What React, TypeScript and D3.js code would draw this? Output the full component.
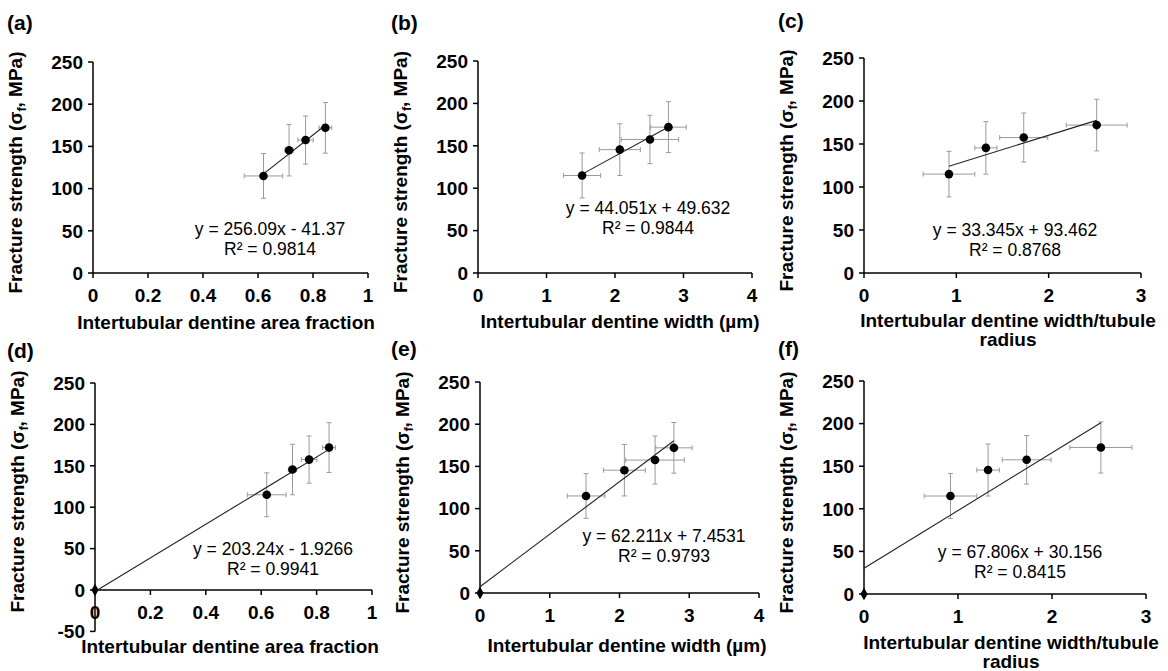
import React from "react";
import * as d3 from "d3";

// mean fracture strength of the four groups and their standard deviations
const strength = [115, 145.5, 157.5, 172];
const strengthErr = [26.5, 30.5, 28.5, 30];

// x measures for the same four groups
const areaFraction = [0.62, 0.713, 0.773, 0.845];
const areaFractionErr = [0.07, 0.015, 0.028, 0.023];
const dentineWidth = [1.52, 2.07, 2.51, 2.78];
const dentineWidthErr = [0.27, 0.3, 0.42, 0.26];
const widthRatio = [0.92, 1.32, 1.73, 2.52];
const widthRatioErr = [0.28, 0.12, 0.26, 0.33];

// linear fits shown on each panel
const slopes = [256.09, 44.051, 33.345, 203.24, 62.211, 67.806];
const intercepts = [-41.37, 49.632, 93.462, -1.9266, 7.4531, 30.156];
const equations = [
  "y = 256.09x - 41.37",
  "y = 44.051x + 49.632",
  "y = 33.345x + 93.462",
  "y = 203.24x - 1.9266",
  "y = 62.211x + 7.4531",
  "y = 67.806x + 30.156",
];
const rSquared = ["R² = 0.9814", "R² = 0.9844", "R² = 0.8768", "R² = 0.9941", "R² = 0.9793", "R² = 0.8415"];

const areaTicks = [0, 0.2, 0.4, 0.6, 0.8, 1];
const widthTicks = [0, 1, 2, 3, 4];
const ratioTicks = [0, 1, 2, 3];
const yTicks = [0, 50, 100, 150, 200, 250];
const yTicksNeg = [-50, 0, 50, 100, 150, 200, 250];

const titleArea = ["Intertubular dentine area fraction"];
const titleWidth = ["Intertubular dentine width (µm)"];
const titleRatio = ["Intertubular dentine width/tubule", "radius"];

const FONT = "'Liberation Sans', Arial, sans-serif";

const panels = [
  { label: "(a)", xs: areaFraction, xe: areaFractionErr, ticks: areaTicks, yt: yTicks, title: titleArea, origin: false,
    l: 93, r: 368, t: 62, b: 273, lx: 7, ly: 30, eq: [270, 235], tx: 226, ty: 322 },
  { label: "(b)", xs: dentineWidth, xe: dentineWidthErr, ticks: widthTicks, yt: yTicks, title: titleWidth, origin: false,
    l: 478, r: 752, t: 61, b: 273, lx: 391, ly: 30, eq: [648, 214], tx: 620, ty: 321 },
  { label: "(c)", xs: widthRatio, xe: widthRatioErr, ticks: ratioTicks, yt: yTicks, title: titleRatio, origin: false,
    l: 864, r: 1141, t: 58, b: 273, lx: 778, ly: 28, eq: [1015, 236], tx: 1008, ty: 320 },
  { label: "(d)", xs: areaFraction, xe: areaFractionErr, ticks: areaTicks, yt: yTicksNeg, title: titleArea, origin: true,
    l: 95, r: 372, t: 383, b: 590, lx: 7, ly: 358, eq: [273, 555], tx: 230, ty: 646 },
  { label: "(e)", xs: dentineWidth, xe: dentineWidthErr, ticks: widthTicks, yt: yTicks, title: titleWidth, origin: true,
    l: 480, r: 759, t: 382, b: 593, lx: 391, ly: 356, eq: [664, 542], tx: 627, ty: 645 },
  { label: "(f)", xs: widthRatio, xe: widthRatioErr, ticks: ratioTicks, yt: yTicks, title: titleRatio, origin: true,
    l: 864, r: 1146, t: 381, b: 594, lx: 778, ly: 356, eq: [1020, 558], tx: 1011, ty: 642 },
];

function Panel({ p, i }: { p: any; i: number }) {
  const x = d3.scaleLinear().domain([0, p.ticks[p.ticks.length - 1]]).range([p.l, p.r]);
  const y = d3.scaleLinear().domain([0, 250]).range([p.b, p.t]);
  const yMin = p.yt[0];
  const x0 = p.origin ? 0 : p.xs[0];
  const x1 = p.xs[p.xs.length - 1];
  const fit = d3
    .line<number>()
    .x((d) => x(d))
    .y((d) => y(slopes[i] * d + intercepts[i]));
  const cap = 2.5;
  const midY = (y(0) + y(250)) / 2;

  return (
    <g>
      <text x={p.lx} y={p.ly} fontFamily={FONT} fontWeight="bold" fontSize={21}>
        {p.label}
      </text>

      {/* y axis */}
      <line x1={p.l} x2={p.l} y1={y(yMin)} y2={y(250)} stroke="#000" strokeWidth={1.5} />
      {p.yt.map((t: number) => (
        <g key={"y" + t}>
          <line x1={p.l - 5} x2={p.l} y1={y(t)} y2={y(t)} stroke="#000" strokeWidth={1.5} />
          <text x={p.l - 10} y={y(t)} dy="0.36em" textAnchor="end" fontFamily={FONT} fontWeight="bold" fontSize={19}>
            {t}
          </text>
        </g>
      ))}

      {/* x axis */}
      <line x1={p.l} x2={p.r} y1={y(0)} y2={y(0)} stroke="#000" strokeWidth={1.5} />
      {p.ticks.map((t: number) => (
        <g key={"x" + t}>
          <line x1={x(t)} x2={x(t)} y1={y(0)} y2={y(0) + 5} stroke="#000" strokeWidth={1.5} />
          <text x={x(t)} y={y(0) + 22} dy="0.36em" textAnchor="middle" fontFamily={FONT} fontWeight="bold" fontSize={19}>
            {t}
          </text>
        </g>
      ))}

      {/* axis titles */}
      <text
        transform={`translate(${p.l - 71},${midY + 5}) rotate(-90)`}
        textAnchor="middle"
        fontFamily={FONT}
        fontWeight="bold"
        fontSize={19}
      >
        Fracture strength (σ
        <tspan fontSize={12.5} dy={4}>f</tspan>
        <tspan dy={-4}>, MPa)</tspan>
      </text>
      {p.title.map((s: string, k: number) => (
        <text
          key={s}
          x={p.tx}
          y={p.ty + k * 19.5}
          dy="0.36em"
          textAnchor="middle"
          fontFamily={FONT}
          fontWeight="bold"
          fontSize={19}
        >
          {s}
        </text>
      ))}

      {/* error bars */}
      {p.xs.map((xv: number, k: number) => (
        <g key={"e" + k} stroke="#9a9a9a" strokeWidth={1}>
          <line x1={x(xv)} x2={x(xv)} y1={y(strength[k] - strengthErr[k])} y2={y(strength[k] + strengthErr[k])} />
          <line x1={x(xv) - cap} x2={x(xv) + cap} y1={y(strength[k] - strengthErr[k])} y2={y(strength[k] - strengthErr[k])} />
          <line x1={x(xv) - cap} x2={x(xv) + cap} y1={y(strength[k] + strengthErr[k])} y2={y(strength[k] + strengthErr[k])} />
          <line x1={x(xv - p.xe[k])} x2={x(xv + p.xe[k])} y1={y(strength[k])} y2={y(strength[k])} />
          <line x1={x(xv - p.xe[k])} x2={x(xv - p.xe[k])} y1={y(strength[k]) - cap} y2={y(strength[k]) + cap} />
          <line x1={x(xv + p.xe[k])} x2={x(xv + p.xe[k])} y1={y(strength[k]) - cap} y2={y(strength[k]) + cap} />
        </g>
      ))}

      {/* trend line */}
      <path d={fit([x0, x1]) || ""} fill="none" stroke="#1c2233" strokeWidth={1.1} />

      {/* points */}
      {p.xs.map((xv: number, k: number) => (
        <circle key={"p" + k} cx={x(xv)} cy={y(strength[k])} r={4.3} fill="#000" />
      ))}
      {p.origin && (
        <path
          transform={`translate(${x(0)},${y(0)})`}
          d={d3.symbol(d3.symbolDiamond, 45)() || ""}
          fill="#000"
        />
      )}

      {/* fit equation */}
      <text x={p.eq[0]} y={p.eq[1]} textAnchor="middle" fontFamily={FONT} fontSize={17.5}>
        {equations[i]}
      </text>
      <text x={p.eq[0]} y={p.eq[1] + 20} textAnchor="middle" fontFamily={FONT} fontSize={17.5}>
        {rSquared[i]}
      </text>
    </g>
  );
}

export default function App() {
  return (
    <svg width={1168} height={671} style={{ position: "absolute", left: 0, top: 0, background: "#fff" }}>
      <rect width={1168} height={671} fill="#fff" />
      {panels.map((p, i) => (
        <Panel key={p.label} p={p} i={i} />
      ))}
    </svg>
  );
}
